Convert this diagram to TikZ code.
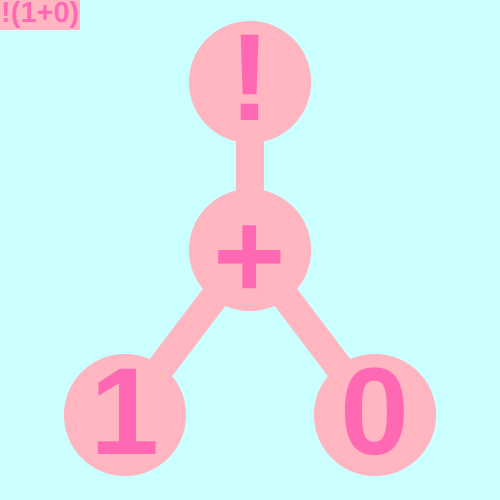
\documentclass[tikz,border=0pt]{standalone}
\usepackage{fontspec}
\setmainfont{Liberation Sans}
\usepackage{tikz}
\usetikzlibrary{positioning}
\definecolor{bgcyan}{HTML}{CCFFFF}
\definecolor{treepink}{HTML}{FFB6C1}
\definecolor{textpink}{HTML}{FF69B4}
\newcommand{\nodefont}{\bfseries\fontsize{124}{124}\selectfont}
\newcommand{\exprfont}{\bfseries\fontsize{29}{29}\selectfont}
\pgfdeclarelayer{canvas}
\pgfdeclarelayer{back}
\pgfsetlayers{canvas,back,main}

\begin{document}
\begin{tikzpicture}[x=1pt, y=-1pt, node distance=168pt]
    % Define styles
    \tikzstyle{treenode} = [circle, fill=treepink, text=textpink, minimum size=122pt, inner sep=0pt, font=\nodefont, text height=78pt, text depth=0pt]
    \tikzstyle{edge} = [draw, treepink, line width=28pt]

    % Background
    \begin{pgfonlayer}{canvas}
        \fill [bgcyan] (0,0) rectangle (500,500);
    \end{pgfonlayer}

    % Place nodes
    \node [anchor=north west, fill=treepink, text=textpink, font=\exprfont, inner xsep=1pt, inner ysep=0pt, minimum height=30pt] (expr) at (0,0) {!(1+0)};
    \node [treenode] (bang) at (250,82) {!};
    \node [treenode, below of=bang, text height=96pt] (plus) {+};
    \node [treenode, below of=plus, node distance=165pt, xshift=-125pt] (one) {1};
    \node [treenode, below of=plus, node distance=165pt, xshift=125pt] (zero) {0};

    % Draw edges
    \begin{pgfonlayer}{back}
        \path [edge] (bang.center) -- (plus.center);
        \path [edge] (plus.center) -- (one.center);
        \path [edge] (plus.center) -- (zero.center);
    \end{pgfonlayer}

\end{tikzpicture}
\end{document}
